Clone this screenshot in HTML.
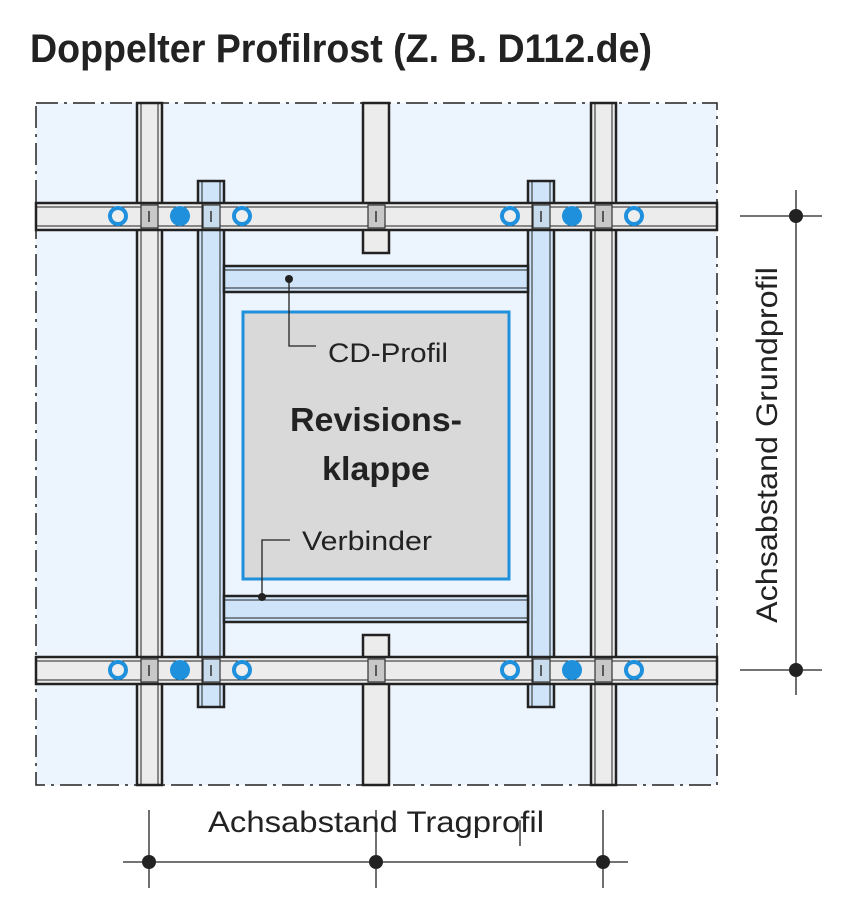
<!DOCTYPE html>
<html><head><meta charset="utf-8"><style>html,body{margin:0;padding:0;background:#fff}svg{display:block}</style></head>
<body>
<svg width="863" height="921" viewBox="0 0 863 921" xmlns="http://www.w3.org/2000/svg" font-family="Liberation Sans, Arial, sans-serif">
<text x="30" y="62" font-size="40" font-weight="bold" fill="#222" textLength="622" lengthAdjust="spacingAndGlyphs">Doppelter Profilrost (Z. B. D112.de)</text>
<!-- panel -->
<rect x="36" y="103" width="681" height="682" fill="#ecf4fd" stroke="#222" stroke-width="1.5" stroke-dasharray="22,6,3,6"/>
<g stroke="#222" stroke-width="2.5" fill="#ececec">
<!-- vertical gray profiles -->
<rect x="137" y="103" width="25" height="682"/>
<rect x="591" y="103" width="25" height="682"/>
<rect x="363" y="103" width="26" height="150"/>
<rect x="363" y="635" width="26" height="150"/>
<!-- blue verticals -->
<rect x="198" y="181" width="26" height="526" fill="#cfe4f8"/>
<rect x="528" y="181" width="26" height="526" fill="#cfe4f8"/>
<!-- blue horizontals -->
<rect x="224" y="266" width="304" height="26" fill="#cfe4f8"/>
<rect x="224" y="596" width="304" height="26" fill="#cfe4f8"/>
<!-- rails -->
<rect x="36" y="203" width="681" height="27"/>
<rect x="36" y="657" width="681" height="27"/>
</g>
<g stroke="#222" stroke-width="1" fill="none">
<line x1="141" y1="103" x2="141" y2="785"/><line x1="158" y1="103" x2="158" y2="785"/>
<line x1="595" y1="103" x2="595" y2="785"/><line x1="612" y1="103" x2="612" y2="785"/>
<line x1="202" y1="181" x2="202" y2="707"/><line x1="220" y1="181" x2="220" y2="707"/>
<line x1="532" y1="181" x2="532" y2="707"/><line x1="550" y1="181" x2="550" y2="707"/>
<line x1="36" y1="207" x2="717" y2="207"/><line x1="36" y1="226" x2="717" y2="226"/>
<line x1="36" y1="661" x2="717" y2="661"/><line x1="36" y1="680" x2="717" y2="680"/>
<line x1="224" y1="270" x2="528" y2="270"/><line x1="224" y1="288" x2="528" y2="288"/>
<line x1="224" y1="600" x2="528" y2="600"/><line x1="224" y1="618" x2="528" y2="618"/>
</g>
<!-- connectors -->
<g fill="#c8c8c8" stroke="#333" stroke-width="1.2">
<rect x="141" y="205" width="17" height="23"/><rect x="203" y="205" width="17" height="23" fill="#c8dcee"/><rect x="368" y="205" width="17" height="23"/><rect x="533" y="205" width="17" height="23" fill="#c8dcee"/><rect x="595" y="205" width="17" height="23"/>
<rect x="141" y="659" width="17" height="23"/><rect x="203" y="659" width="17" height="23" fill="#c8dcee"/><rect x="368" y="659" width="17" height="23"/><rect x="533" y="659" width="17" height="23" fill="#c8dcee"/><rect x="595" y="659" width="17" height="23"/>
</g>
<g stroke="#333" stroke-width="1.5">
<line x1="149" y1="211" x2="149" y2="222"/><line x1="211" y1="211" x2="211" y2="222"/><line x1="376" y1="211" x2="376" y2="222"/><line x1="541" y1="211" x2="541" y2="222"/><line x1="603" y1="211" x2="603" y2="222"/>
<line x1="149" y1="665" x2="149" y2="676"/><line x1="211" y1="665" x2="211" y2="676"/><line x1="376" y1="665" x2="376" y2="676"/><line x1="541" y1="665" x2="541" y2="676"/><line x1="603" y1="665" x2="603" y2="676"/>
</g>
<!-- circles -->
<g fill="#eee" stroke="#1e90dc" stroke-width="4">
<circle cx="118" cy="216" r="8"/><circle cx="242" cy="216" r="8"/><circle cx="510" cy="216" r="8"/><circle cx="634" cy="216" r="8"/>
<circle cx="118" cy="670" r="8"/><circle cx="242" cy="670" r="8"/><circle cx="510" cy="670" r="8"/><circle cx="634" cy="670" r="8"/>
</g>
<g fill="#1e90dc"><circle cx="180" cy="216" r="10"/><circle cx="572" cy="216" r="10"/><circle cx="180" cy="670" r="10"/><circle cx="572" cy="670" r="10"/></g>
<!-- hatch -->
<rect x="243" y="312" width="266" height="267" fill="#d9d9d9" stroke="#1e90dc" stroke-width="3"/>
<!-- leaders -->
<g stroke="#222" stroke-width="1.3" fill="none">
<polyline points="289,279 289,346 316,346"/>
<polyline points="262,597 262,540 290,540"/>
</g>
<circle cx="289" cy="279" r="4" fill="#222"/><circle cx="262" cy="597" r="4" fill="#222"/>
<text x="328" y="362" font-size="27" fill="#222" textLength="120" lengthAdjust="spacingAndGlyphs">CD-Profil</text>
<text x="302" y="550" font-size="27" fill="#222" textLength="130" lengthAdjust="spacingAndGlyphs">Verbinder</text>
<text x="376" y="431" font-size="33" font-weight="bold" fill="#222" text-anchor="middle" textLength="172" lengthAdjust="spacingAndGlyphs">Revisions-</text>
<text x="376" y="480" font-size="33" font-weight="bold" fill="#222" text-anchor="middle" textLength="108" lengthAdjust="spacingAndGlyphs">klappe</text>
<!-- right dimension -->
<g stroke="#222" stroke-width="1.3">
<line x1="796" y1="190" x2="796" y2="695"/>
<line x1="740" y1="216" x2="822" y2="216"/>
<line x1="740" y1="670" x2="822" y2="670"/>
</g>
<circle cx="796" cy="216" r="7" fill="#222"/><circle cx="796" cy="670" r="7" fill="#222"/>
<text transform="translate(777,445) rotate(-90)" font-size="30" fill="#222" text-anchor="middle" textLength="356" lengthAdjust="spacingAndGlyphs">Achsabstand Grundprofil</text>
<!-- bottom dimension -->
<g stroke="#222" stroke-width="1.3">
<line x1="123" y1="862" x2="628" y2="862"/>
<line x1="149" y1="810" x2="149" y2="888"/>
<line x1="376" y1="810" x2="376" y2="888"/>
<line x1="603" y1="810" x2="603" y2="888"/>
<line x1="520" y1="820" x2="520" y2="846"/>
</g>
<circle cx="149" cy="862" r="7" fill="#222"/><circle cx="376" cy="862" r="7" fill="#222"/><circle cx="603" cy="862" r="7" fill="#222"/>
<text x="376" y="832" font-size="30" fill="#222" text-anchor="middle" textLength="336" lengthAdjust="spacingAndGlyphs">Achsabstand Tragprofil</text>
</svg>
</body></html>
